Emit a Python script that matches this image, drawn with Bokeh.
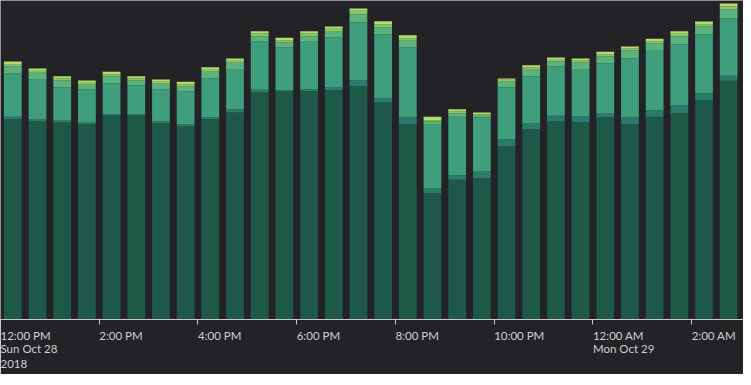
import pandas as pd
from bokeh.plotting import figure
from bokeh.models import ColumnDataSource, Range1d, FixedTicker, DatetimeAxis
from bokeh.embed import file_html
from bokeh.resources import INLINE

# 30-minute buckets (start times)
bucket_start = [
    "2018-10-28 12:00", "2018-10-28 12:30", "2018-10-28 13:00", "2018-10-28 13:30",
    "2018-10-28 14:00", "2018-10-28 14:30", "2018-10-28 15:00", "2018-10-28 15:30",
    "2018-10-28 16:00", "2018-10-28 16:30", "2018-10-28 17:00", "2018-10-28 17:30",
    "2018-10-28 18:00", "2018-10-28 18:30", "2018-10-28 19:00", "2018-10-28 19:30",
    "2018-10-28 20:00", "2018-10-28 20:30", "2018-10-28 21:00", "2018-10-28 21:30",
    "2018-10-28 22:00", "2018-10-28 22:30", "2018-10-28 23:00", "2018-10-28 23:30",
    "2018-10-29 00:00", "2018-10-29 00:30", "2018-10-29 01:00", "2018-10-29 01:30",
    "2018-10-29 02:00", "2018-10-29 02:30", "2018-10-29 03:00",
]

# stacked series, bottom to top
s1 = [200.3, 198, 197, 195.3, 204, 204.3, 196.3, 193, 200.3, 207, 227, 228, 228.3, 229.3, 233.3, 217,
      195.3, 126, 139.7, 141.3, 173, 190, 198, 197.3, 202, 195, 202.7, 206.3, 219.3, 238.7, 230]
s2 = [2.4, 2, 2, 1.7, 1, 0.7, 1.7, 2, 2, 3.3, 2.7, 1.3, 2, 2.7, 6, 4,
      6.7, 5, 4.6, 6.7, 7.3, 6, 5.7, 5.7, 4, 7, 6.6, 8, 7, 5, 6]
s3 = [43.3, 39.7, 33, 33, 31, 29.3, 32, 33, 38.7, 39.4, 48.3, 42.7, 47.4, 50, 57.7, 64,
      70, 63.7, 58.4, 54, 51.7, 47, 49.3, 46.7, 50.3, 59, 59.4, 61, 59, 57.3, 60]
s4 = [7, 7, 7, 4.7, 7, 4.7, 5.7, 4.7, 6.7, 7, 5.3, 5, 5.3, 5.7, 8.3, 7.3,
      6.7, 3.3, 3.6, 1.7, 5.7, 6.7, 5, 7.3, 6.7, 8, 7.3, 7.7, 7.7, 9.3, 7]
s5 = [2.3, 2, 2, 2, 2.3, 2, 2, 2.6, 2, 2, 3, 2.3, 3, 3, 3.4, 3,
      2.6, 1.3, 2, 1.3, 2, 2.3, 1.7, 2.3, 2.3, 2.3, 2, 2.7, 2.3, 2.7, 3]
s6 = [2.7, 2.3, 2.3, 2.3, 2.4, 2.3, 2.3, 2.4, 2.6, 2.3, 2, 2.4, 2.3, 2.3, 2.3, 3,
      3, 3.4, 2, 2, 1.3, 2.3, 2.3, 1.7, 2.4, 1.7, 2.7, 2.6, 2.7, 3, 2.7]

# axis labels: time line, date line, year line
tick_times = ["2018-10-28 12:00", "2018-10-28 14:00", "2018-10-28 16:00", "2018-10-28 18:00",
              "2018-10-28 20:00", "2018-10-28 22:00", "2018-10-29 00:00", "2018-10-29 02:00"]
tick_labels = ["12:00 PM", "2:00 PM", "4:00 PM", "6:00 PM",
               "8:00 PM", "10:00 PM", "12:00 AM", "2:00 AM"]
date_times = ["2018-10-28 12:00", "2018-10-29 00:00"]
date_labels = ["Sun Oct 28", "Mon Oct 29"]
year_times = ["2018-10-28 12:00"]
year_labels = ["2018"]

colors = ["#1e5847", "#2a7b6c", "#3f9e7b", "#5ab37c", "#86c66c", "#b3dc69"]
names = ["s1", "s2", "s3", "s4", "s5", "s6"]

BG = "#232226"
TXT = "#cfcfcf"
HALF = pd.Timedelta(minutes=15)
x = pd.to_datetime(bucket_start) + HALF
src = ColumnDataSource(dict(x=x, s1=s1, s2=s2, s3=s3, s4=s4, s5=s5, s6=s6))

p = figure(frame_width=743, frame_height=319, x_axis_type="datetime", output_backend="svg",
           toolbar_location=None, background_fill_color=BG, border_fill_color=BG,
           min_border_left=0, min_border_right=0, min_border_top=0, min_border_bottom=0,
           x_range=Range1d(pd.Timestamp("2018-10-28 12:00"), pd.Timestamp("2018-10-29 03:03")),
           y_range=Range1d(0, 319))
p.outline_line_color = None

bar_w = 0.72 * 30 * 60 * 1000
p.vbar_stack(names, x="x", width=bar_w, color=colors, line_color=None, source=src)

p.xgrid.visible = False
p.ygrid.visible = False
p.yaxis.visible = False


def ms(ts):
    return [float(pd.Timestamp(t).value // 10**6) for t in ts]


def style(a, standoff):
    a.minor_tick_line_color = None
    a.axis_label = None
    a.axis_label_standoff = 0
    a.major_label_orientation = -0.00001   # left-aligned labels
    a.major_label_text_color = TXT
    a.major_label_text_font = "Lato"
    a.major_label_text_font_size = "11.5px"
    a.major_label_standoff = standoff


ax = p.xaxis[0]
t_ms = ms(tick_times)
ax.ticker = FixedTicker(ticks=t_ms)
ax.major_label_overrides = dict(zip(t_ms, tick_labels))
ax.axis_line_color = "#c9c9c9"
ax.major_tick_line_color = "#c9c9c9"
ax.major_tick_in = 0
ax.major_tick_out = 5
style(ax, 11)

for times, labels, so in ((date_times, date_labels, -3), (year_times, year_labels, -1)):
    m = ms(times)
    a = DatetimeAxis(ticker=FixedTicker(ticks=m), major_label_overrides=dict(zip(m, labels)))
    a.axis_line_color = None
    a.major_tick_line_color = None
    a.major_tick_in = 0
    a.major_tick_out = 0
    style(a, so)
    p.add_layout(a, "below")

open("out.html", "w").write(file_html(p, INLINE))
